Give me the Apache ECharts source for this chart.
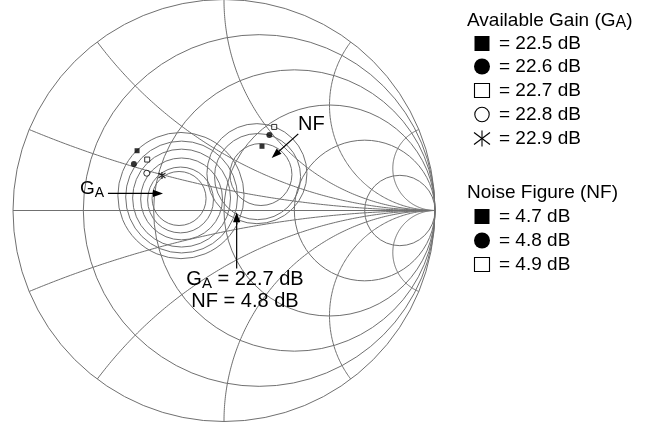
<!DOCTYPE html>
<html><head><meta charset="utf-8">
<script src="https://cdn.jsdelivr.net/npm/echarts@6/dist/echarts.min.js"></script>
<style>html,body{margin:0;padding:0;background:#fff}#c{width:667px;height:426px}</style>
</head><body><div id="c"></div>
<script>
// ---------- data (reflection-coefficient plane, Γ = re + j·im) ----------
const resistanceCircles = [0, 0.2, 0.5, 1, 2, 5];
const reactanceArcs = [0.2, 0.5, 1, 2, 5];

// available-gain circles
const gainCircleRe = [-0.204, -0.201, -0.201, -0.201, -0.206, -0.213];
const gainCircleIm = [0.071, 0.064, 0.059, 0.055, 0.050, 0.057];
const gainCircleRadius = [0.299, 0.265, 0.232, 0.194, 0.156, 0.128];

// noise-figure circles
const noiseCircleRe = [0.175, 0.159, 0.156];
const noiseCircleIm = [0.171, 0.161, 0.175];
const noiseCircleRadius = [0.147, 0.204, 0.237];

// circle tags
const gainLevels = ['22.5', '22.6', '22.7', '22.8', '22.9'];
const gainMarkerRe = [-0.412, -0.427, -0.364, -0.366, -0.294];
const gainMarkerIm = [0.284, 0.221, 0.242, 0.177, 0.166];

const noiseLevels = ['4.7', '4.8', '4.9'];
const noiseMarkerRe = [0.180, 0.215, 0.238];
const noiseMarkerIm = [0.305, 0.359, 0.397];

// annotation arrows (tail -> tip)
const arrowFromRe = [-0.550, 0.352, 0.060];
const arrowFromIm = [0.081, 0.364, -0.276];
const arrowToRe = [-0.289, 0.226, 0.060];
const arrowToIm = [0.081, 0.250, -0.008];

const optimumGain = '22.7';
const optimumNoise = '4.8';

// ---------- styles ----------
const FONT = "'Liberation Sans', Arial, Helvetica, sans-serif";
const LINE = '#707070';
const ASTERISK = 'path://M5,0L5,10M0.5,1.5L9.5,8.5M0.5,8.5L9.5,1.5';
const markerStyles = {
  filledSquare: {symbol: 'rect', symbolSize: 5, itemStyle: {color: '#000'}},
  filledCircle: {symbol: 'circle', symbolSize: 6, itemStyle: {color: '#000'}},
  openSquare: {symbol: 'rect', symbolSize: 5, itemStyle: {color: '#fff', borderColor: '#000', borderWidth: 1}},
  openCircle: {symbol: 'circle', symbolSize: 6, itemStyle: {color: '#fff', borderColor: '#000', borderWidth: 1}},
  asterisk: {symbol: ASTERISK, symbolSize: 7, itemStyle: {color: 'none', borderColor: '#000', borderWidth: 1.2}}
};
const gainMarkerKinds = ['filledSquare', 'filledCircle', 'openSquare', 'openCircle', 'asterisk'];
const noiseMarkerKinds = ['filledSquare', 'filledCircle', 'openSquare'];

// ---------- series ----------
const smithData = [];
resistanceCircles.forEach(r => smithData.push([0, r, 0, 0]));
reactanceArcs.forEach(x => { smithData.push([1, x, 0, 0]); smithData.push([1, -x, 0, 0]); });
smithData.push([2, 0, 0, 0]);

function renderSmith(params, api) {
  const kind = api.value(0), p = api.value(1);
  const style = {fill: 'none', stroke: LINE, lineWidth: 1};
  if (kind === 0) {
    const c = api.coord([p / (1 + p), 0]);
    const rad = api.size([1 / (1 + p), 0])[0];
    return {type: 'circle', shape: {cx: c[0], cy: c[1], r: rad}, style};
  }
  if (kind === 1) {
    const R = 1 / Math.abs(p), cy = 1 / p;
    const g0x = (p * p - 1) / (p * p + 1), g0y = 2 * p / (p * p + 1);
    const th0 = Math.atan2(g0y - cy, g0x - 1);
    const th1 = p > 0 ? -Math.PI / 2 : Math.PI / 2;
    let d = th1 - th0;
    while (d > Math.PI) d -= 2 * Math.PI;
    while (d <= -Math.PI) d += 2 * Math.PI;
    const pts = [];
    const N = 160;
    for (let i = 0; i <= N; i++) {
      const th = th0 + d * i / N;
      pts.push(api.coord([1 + R * Math.cos(th), cy + R * Math.sin(th)]));
    }
    return {type: 'polyline', shape: {points: pts}, style};
  }
  const a = api.coord([-1, 0]), b = api.coord([1, 0]);
  return {type: 'line', shape: {x1: a[0], y1: a[1], x2: b[0], y2: b[1]}, style: {stroke: LINE, lineWidth: 1}};
}

function renderCircle(params, api) {
  const c = api.coord([api.value(0), api.value(1)]);
  const rad = api.size([api.value(2), 0])[0];
  return {type: 'circle', shape: {cx: c[0], cy: c[1], r: rad}, style: {fill: 'none', stroke: LINE, lineWidth: 1}};
}

function renderArrow(params, api) {
  const p0 = api.coord([api.value(0), api.value(1)]);
  const p1 = api.coord([api.value(2), api.value(3)]);
  let dx = p1[0] - p0[0], dy = p1[1] - p0[1];
  const len = Math.sqrt(dx * dx + dy * dy);
  dx /= len; dy /= len;
  const L = 10, W = 3.6;
  const bx = p1[0] - L * dx, by = p1[1] - L * dy;
  return {type: 'group', children: [
    {type: 'line', shape: {x1: p0[0], y1: p0[1], x2: bx + 2 * dx, y2: by + 2 * dy}, style: {stroke: '#000', lineWidth: 1.2}},
    {type: 'polygon', shape: {points: [[p1[0], p1[1]], [bx - W * dy, by + W * dx], [bx + W * dy, by - W * dx]]}, style: {fill: '#000'}}
  ]};
}

const series = [
  {type: 'custom', coordinateSystem: 'cartesian2d', data: smithData, encode: {x: 2, y: 3},
   renderItem: renderSmith, clip: false, silent: true, z: 1},
  {type: 'custom', coordinateSystem: 'cartesian2d',
   data: gainCircleRe.map((v, i) => [v, gainCircleIm[i], gainCircleRadius[i]]),
   encode: {x: 0, y: 1}, renderItem: renderCircle, clip: false, silent: true, z: 2},
  {type: 'custom', coordinateSystem: 'cartesian2d',
   data: noiseCircleRe.map((v, i) => [v, noiseCircleIm[i], noiseCircleRadius[i]]),
   encode: {x: 0, y: 1}, renderItem: renderCircle, clip: false, silent: true, z: 2},
  {type: 'custom', coordinateSystem: 'cartesian2d',
   data: arrowFromRe.map((v, i) => [v, arrowFromIm[i], arrowToRe[i], arrowToIm[i]]),
   encode: {x: 0, y: 1}, renderItem: renderArrow, clip: false, silent: true, z: 3}
];
gainMarkerKinds.forEach((k, i) => series.push(Object.assign({type: 'scatter', z: 5, silent: true,
  data: [[gainMarkerRe[i], gainMarkerIm[i]]]}, markerStyles[k])));
noiseMarkerKinds.forEach((k, i) => series.push(Object.assign({type: 'scatter', z: 5, silent: true,
  data: [[noiseMarkerRe[i], noiseMarkerIm[i]]]}, markerStyles[k])));

// ---------- text & legend ----------
const measureCtx = document.createElement('canvas').getContext('2d');
function textWidth(s, fs) { measureCtx.font = fs + 'px ' + FONT; return measureCtx.measureText(s).width; }
function txt(x, y, text, fs, align) {
  return {type: 'text', x, y, z: 100, silent: true,
    style: {text, fill: '#000', fontFamily: FONT, fontSize: fs, align: align || 'left', verticalAlign: 'middle'}};
}
// main text + lowered subscript + tail, starting at x (or centred on x)
function subText(x, y, main, sub, tail, fs, subFs, drop, centred) {
  const w1 = textWidth(main, fs), w2 = textWidth(sub, subFs), w3 = tail ? textWidth(tail, fs) : 0;
  let x0 = centred ? x - (w1 + w2 + w3) / 2 : x;
  const out = [txt(x0, y, main, fs), txt(x0 + w1, y + drop, sub, subFs)];
  if (tail) out.push(txt(x0 + w1 + w2, y, tail, fs));
  return out;
}
function legendIcon(kind, cx, cy) {
  const s = {stroke: '#000', lineWidth: 1.1, fill: 'none'};
  if (kind === 'filledSquare') return {type: 'rect', z: 100, shape: {x: cx - 7.5, y: cy - 7.5, width: 15, height: 15}, style: {fill: '#000'}};
  if (kind === 'filledCircle') return {type: 'circle', z: 100, shape: {cx, cy, r: 8}, style: {fill: '#000'}};
  if (kind === 'openSquare') return {type: 'rect', z: 100, shape: {x: cx - 7.5, y: cy - 7, width: 15, height: 14}, style: s};
  if (kind === 'openCircle') return {type: 'circle', z: 100, shape: {cx, cy, r: 7.2}, style: s};
  return {type: 'group', z: 100, children: [
    {type: 'line', shape: {x1: cx, y1: cy - 8, x2: cx, y2: cy + 8}, style: s},
    {type: 'line', shape: {x1: cx - 8, y1: cy - 6, x2: cx + 8, y2: cy + 6}, style: s},
    {type: 'line', shape: {x1: cx - 8, y1: cy + 6, x2: cx + 8, y2: cy - 6}, style: s}
  ]};
}

let graphic = [];
// on-chart labels
graphic = graphic.concat(subText(80, 189, 'G', 'A', '', 19, 14, 4.5, false));
graphic.push(txt(298, 124, 'NF', 20));
graphic = graphic.concat(subText(245, 279, 'G', 'A', ' = ' + optimumGain + ' dB', 20, 15, 5, true));
graphic.push(txt(245, 301, 'NF = ' + optimumNoise + ' dB', 20, 'center'));
// legend
const LX = 467, IX = 482, TX = 499;
const gainRows = [43.5, 66.5, 90.5, 114.5, 138.5];
const noiseRows = [216.5, 240.5, 264.5];
graphic = graphic.concat(subText(LX, 20.5, 'Available Gain (G', 'A', ')', 19, 16, 2.5, false));
gainLevels.forEach((g, i) => {
  graphic.push(legendIcon(gainMarkerKinds[i], IX, gainRows[i]));
  graphic.push(txt(TX, gainRows[i], '= ' + g + ' dB', 19));
});
graphic.push(txt(LX, 193, 'Noise Figure (NF)', 19));
noiseLevels.forEach((n, i) => {
  graphic.push(legendIcon(noiseMarkerKinds[i], IX, noiseRows[i]));
  graphic.push(txt(TX, noiseRows[i], '= ' + n + ' dB', 19));
});

const chart = echarts.init(document.getElementById('c'), null, {renderer: 'canvas'});
chart.setOption({
  animation: false,
  backgroundColor: '#fff',
  grid: {left: 13, top: -1, width: 422, height: 422, containLabel: false},
  xAxis: {type: 'value', min: -1, max: 1, show: false},
  yAxis: {type: 'value', min: -1, max: 1, show: false},
  series,
  graphic
});
</script></body></html>
